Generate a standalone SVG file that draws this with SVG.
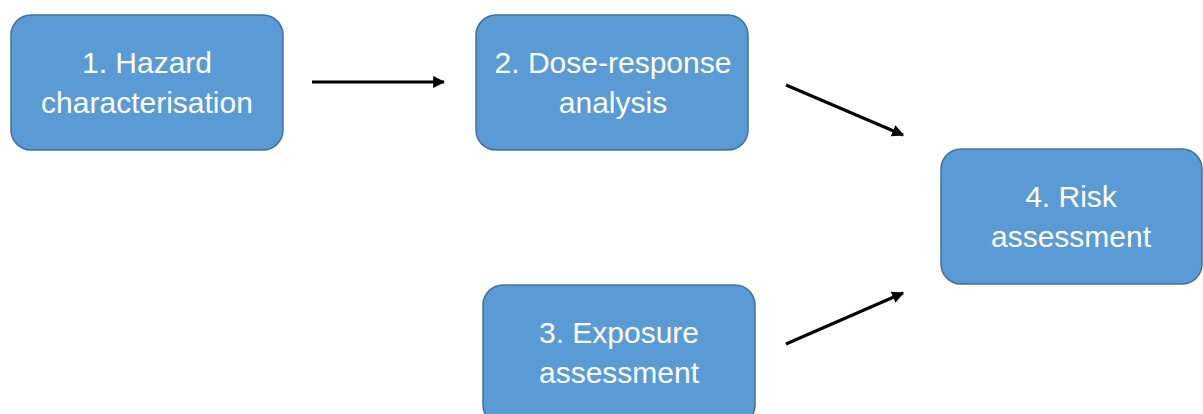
<svg xmlns="http://www.w3.org/2000/svg" width="1203" height="414" viewBox="0 0 1203 414">
<style>
.box{fill:#5B9BD5;stroke:#41719C;stroke-width:1.5}
.lbl{font-family:"Liberation Sans",Arial,sans-serif;font-size:30px;fill:#ffffff;text-anchor:middle}
.conn{stroke:#000;stroke-width:3;fill:none;marker-end:url(#ah)}
</style>
<defs>
<marker id="ah" viewBox="0 0 10 10" refX="9" refY="5" markerWidth="4" markerHeight="4" orient="auto" markerUnits="strokeWidth">
<path d="M0,0 L10,5 L0,10 z" fill="#000"/>
</marker>
</defs>
<rect width="1203" height="414" fill="#ffffff"/>
<g id="connectors">
<line class="conn" x1="312" y1="82" x2="444" y2="82"/>
<line class="conn" x1="786" y1="85" x2="903" y2="135"/>
<line class="conn" x1="786" y1="344" x2="903" y2="293"/>
</g>
<g id="node1">
<rect class="box" x="11" y="15" width="272" height="135" rx="20"/>
<text class="lbl" x="147" y="73">1. Hazard</text>
<text class="lbl" x="147" y="113">characterisation</text>
</g>
<g id="node2">
<rect class="box" x="476" y="15" width="272" height="135" rx="20"/>
<text class="lbl" x="613" y="73">2. Dose-response</text>
<text class="lbl" x="613" y="113">analysis</text>
</g>
<g id="node3">
<rect class="box" x="483" y="285" width="272" height="140" rx="20"/>
<text class="lbl" x="619" y="343">3. Exposure</text>
<text class="lbl" x="619" y="383">assessment</text>
</g>
<g id="node4">
<rect class="box" x="941" y="149" width="261" height="135" rx="20"/>
<text class="lbl" x="1071" y="207">4. Risk</text>
<text class="lbl" x="1071" y="247">assessment</text>
</g>
</svg>
